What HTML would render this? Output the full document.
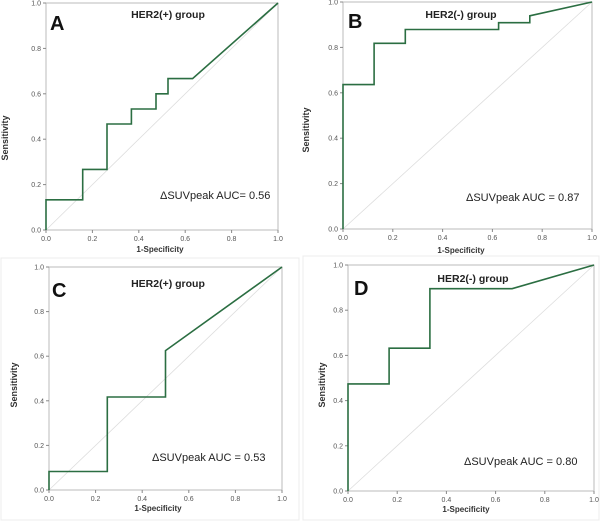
<!DOCTYPE html>
<html><head><meta charset="utf-8">
<style>
body{margin:0;background:#fff;}
svg{display:block;font-family:"Liberation Sans",sans-serif;}
</style></head>
<body>
<svg id="chart" width="600" height="525" viewBox="0 0 600 525" xmlns="http://www.w3.org/2000/svg">
<rect x="0" y="0" width="600" height="525" fill="#fff"/>
<rect x="1" y="258" width="298" height="262" fill="none" stroke="#ececec"/>
<rect x="303" y="256" width="296" height="264" fill="none" stroke="#ececec"/>
</svg>
<script>
// Panel A: HER2(+) ΔSUVpeak
const fprA = [0, 0, 0.158, 0.158, 0.263, 0.263, 0.368, 0.368, 0.474, 0.474, 0.526, 0.526, 0.632, 1];
const tprA = [0, 0.133, 0.133, 0.267, 0.267, 0.467, 0.467, 0.533, 0.533, 0.6, 0.6, 0.667, 0.667, 1];
// Panel B: HER2(-)
const fprB = [0, 0, 0.125, 0.125, 0.25, 0.25, 0.625, 0.625, 0.75, 0.75, 1];
const tprB = [0, 0.636, 0.636, 0.818, 0.818, 0.879, 0.879, 0.909, 0.909, 0.939, 1];
// Panel C: HER2(+)
const fprC = [0, 0, 0.25, 0.25, 0.5, 0.5, 1];
const tprC = [0, 0.083, 0.083, 0.417, 0.417, 0.625, 1];
// Panel D: HER2(-)
const fprD = [0, 0, 0.167, 0.167, 0.333, 0.333, 0.667, 1];
const tprD = [0, 0.474, 0.474, 0.632, 0.632, 0.895, 0.895, 1];
const tickLabels = ["0.0", "0.2", "0.4", "0.6", "0.8", "1.0"];
const tickValues = [0, 0.2, 0.4, 0.6, 0.8, 1];
const panelLetters = ["A", "B", "C", "D"];
const panelTitles = ["HER2(+)  group", "HER2(-)  group", "HER2(+)  group", "HER2(-)  group"];
const aucLabels = ["\u0394SUVpeak  AUC= 0.56", "\u0394SUVpeak AUC = 0.87", "\u0394SUVpeak AUC = 0.53", "\u0394SUVpeak AUC = 0.80"];

const NS = "http://www.w3.org/2000/svg";
const svg = document.getElementById("chart");
function mk(tag, attrs, parent) {
  const e = document.createElementNS(NS, tag);
  for (const k in attrs) e.setAttribute(k, attrs[k]);
  (parent || svg).appendChild(e);
  return e;
}
const panels = [
  {l:46,t:3,r:278,b:230, fx:fprA, ty:tprA, letter:[50,30], title:[168,18], auc:[160,199], yt:[8,138], xt:[160,252]},
  {l:343,t:2,r:592,b:229, fx:fprB, ty:tprB, letter:[348,28], title:[461,18], auc:[466,201], yt:[309,130], xt:[461,253]},
  {l:49,t:267,r:282,b:490, fx:fprC, ty:tprC, letter:[52,297], title:[168,287], auc:[152,461], yt:[17,385], xt:[158,511]},
  {l:348,t:265,r:594,b:491, fx:fprD, ty:tprD, letter:[354,295], title:[473,282], auc:[464,465], yt:[325,385], xt:[466,512]}
];
panels.forEach((p, i) => {
  const g = mk("g", {});
  
  
  const xs = v => p.l + v * (p.r - p.l);
  const ys = v => p.b - v * (p.b - p.t);
  const frame = mk("rect", {x:p.l, y:p.t, width:p.r-p.l, height:p.b-p.t, fill:"none", stroke:"#bbb", "stroke-width":1}, g);
  
  
  const diag = mk("line", {x1:xs(0), y1:ys(0), x2:xs(1), y2:ys(1), stroke:"#ddd", "stroke-width":0.8}, g);
  
  
  tickValues.forEach((v, k) => {
    mk("line", {x1:xs(v), y1:p.b, x2:xs(v), y2:p.b+3, stroke:"#888"}, g);
    mk("line", {x1:p.l-3, y1:ys(v), x2:p.l, y2:ys(v), stroke:"#888"}, g);
    const tx = mk("text", {x:xs(v), y:p.b+11, "font-size":7, fill:"#555", "text-anchor":"middle"}, g);
    tx.textContent = tickLabels[k];
    
    
    const ty = mk("text", {x:p.l-5, y:ys(v)+2.5, "font-size":7, fill:"#555", "text-anchor":"end"}, g);
    ty.textContent = tickLabels[k];
    
    
  });
  const pts = p.fx.map((x, k) => xs(x).toFixed(1) + "," + ys(p.ty[k]).toFixed(1)).join(" ");
  const curve = mk("polyline", {points:pts, fill:"none", stroke:"#2b6e42", "stroke-width":1.6}, g);
  
  
  const L = mk("text", {x:p.letter[0], y:p.letter[1], "font-size":20, "font-weight":"bold", fill:"#111"}, g);
  L.textContent = panelLetters[i];
  
  
  const T = mk("text", {x:p.title[0], y:p.title[1], "font-size":10.5, "font-weight":"bold", fill:"#222", "text-anchor":"middle"}, g);
  T.textContent = panelTitles[i];
  
  
  const A = mk("text", {x:p.auc[0], y:p.auc[1], "font-size":11, fill:"#222"}, g);
  A.textContent = aucLabels[i];
  
  
  const YT = mk("text", {x:p.yt[0], y:p.yt[1], "font-size":9, "font-weight":"bold", fill:"#333", "text-anchor":"middle", transform:"rotate(-90 "+p.yt[0]+" "+p.yt[1]+")"}, g);
  YT.textContent = "Sensitivity";
  
  
  const XT = mk("text", {x:p.xt[0], y:p.xt[1], "font-size":8, "font-weight":"bold", fill:"#333", "text-anchor":"middle"}, g);
  XT.textContent = "1-Specificity";
  
  
});
</script>
</body></html>
